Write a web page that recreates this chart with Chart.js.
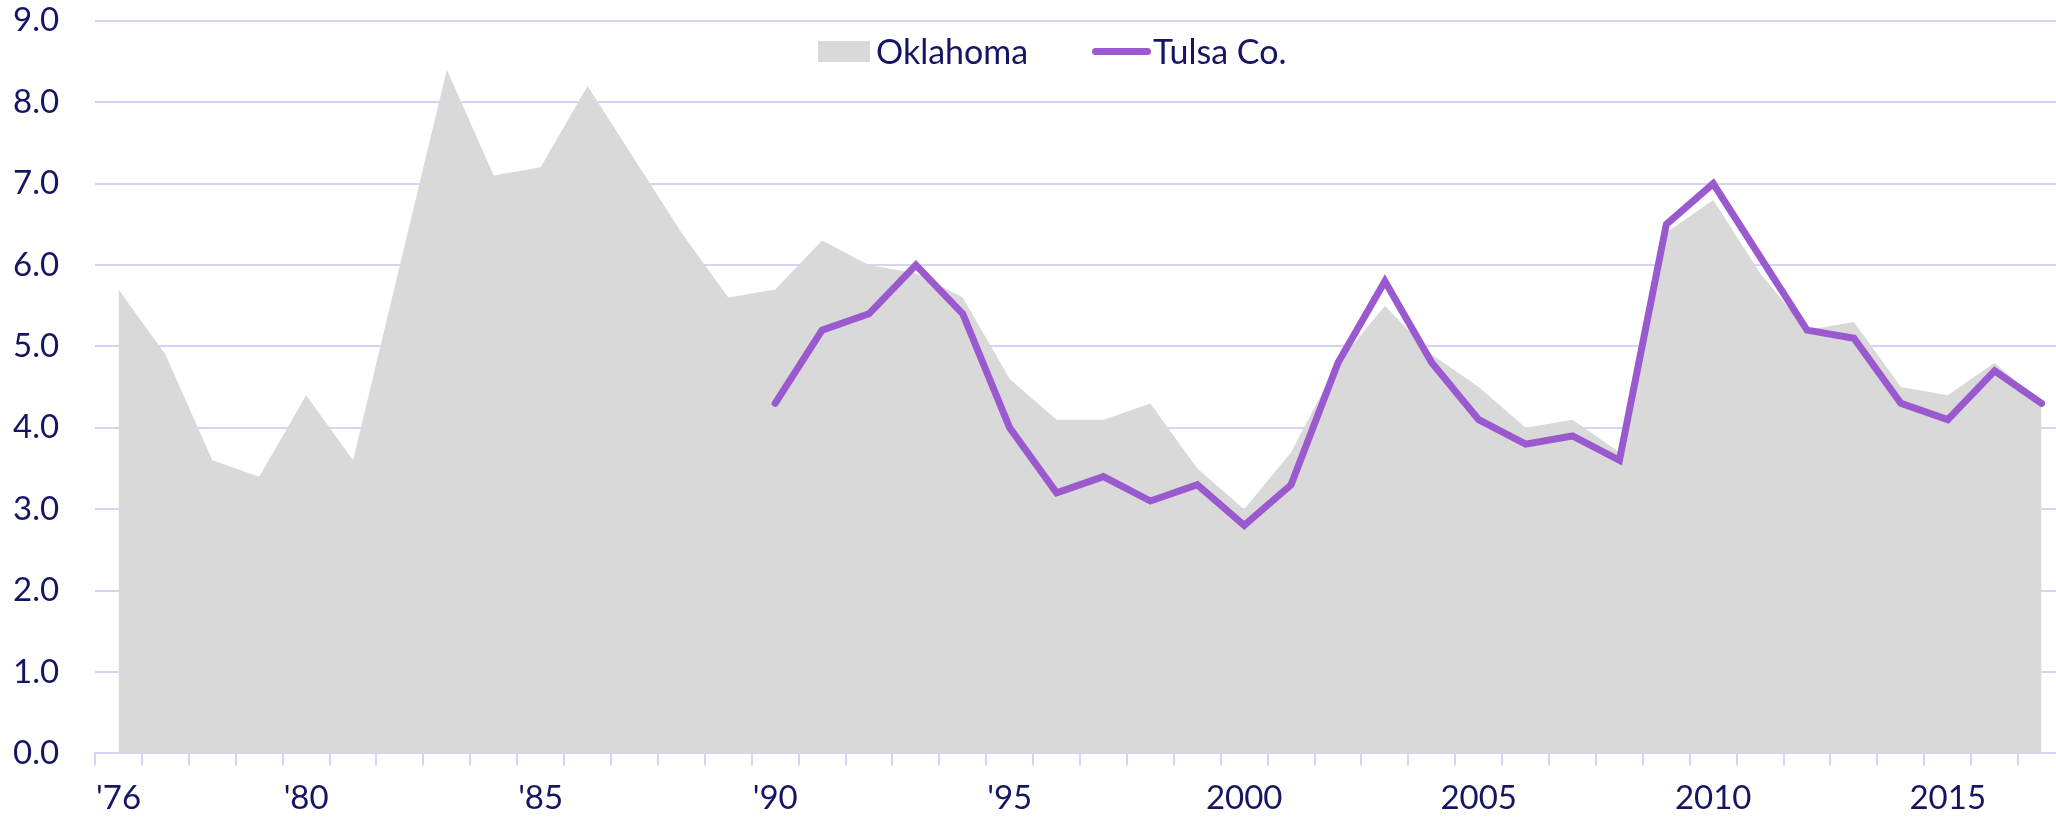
<!DOCTYPE html>
<html>
<head>
<meta charset="utf-8">
<script src="https://cdn.jsdelivr.net/npm/chart.js@4.4.0/dist/chart.umd.min.js"></script>
<style>
  html, body { margin: 0; padding: 0; background: #fff; overflow: hidden; }
  #wrap { position: relative; width: 2056px; height: 818px; overflow: hidden; }
  #grafico { position: absolute; left: -23px; top: -35px; }
  #legend { font-family: Lato, sans-serif; font-size: 34px; color: #151563; }
  #legend .item { position: absolute; top: 31px; height: 40px; line-height: 40px; display: flex; align-items: center; white-space: nowrap; }
  #legend .swatch { display: inline-block; }
</style>
</head>
<body>
<div id="wrap">
  <canvas id="grafico" width="2088" height="866"></canvas>
  <div id="legend"></div>
</div>
<script>
var years = [1976, 1977, 1978, 1979, 1980, 1981, 1982, 1983, 1984, 1985,
             1986, 1987, 1988, 1989, 1990, 1991, 1992, 1993, 1994, 1995,
             1996, 1997, 1998, 1999, 2000, 2001, 2002, 2003, 2004, 2005,
             2006, 2007, 2008, 2009, 2010, 2011, 2012, 2013, 2014, 2015,
             2016, 2017];

var oklahoma = [5.7, 4.9, 3.6, 3.4, 4.4, 3.6, 6.0, 8.4, 7.1, 7.2,
                8.2, 7.3, 6.4, 5.6, 5.7, 6.3, 6.0, 5.9, 5.6, 4.6,
                4.1, 4.1, 4.3, 3.5, 3.0, 3.7, 4.8, 5.5, 4.9, 4.5,
                4.0, 4.1, 3.7, 6.4, 6.8, 5.9, 5.2, 5.3, 4.5, 4.4,
                4.8, 4.3];

var tulsa = [null, null, null, null, null, null, null, null, null, null,
             null, null, null, null, 4.3, 5.2, 5.4, 6.0, 5.4, 4.0,
             3.2, 3.4, 3.1, 3.3, 2.8, 3.3, 4.8, 5.8, 4.8, 4.1,
             3.8, 3.9, 3.6, 6.5, 7.0, 6.1, 5.2, 5.1, 4.3, 4.1,
             4.7, 4.3];

var tickYears = [1976, 1980, 1985, 1990, 1995, 2000, 2005, 2010, 2015];
var tickText  = ["'76", "'80", "'85", "'90", "'95", "2000", "2005", "2010", "2015"];

var textColor = '#151563';
var gridColor = '#d4d4f7';
var fonte = {family: 'Lato, sans-serif', size: 33};

var ctx = document.getElementById('grafico').getContext('2d');
var config = {
    type: 'line',
    data: {
        labels: years,
        datasets: [{
            label: 'Oklahoma',
            data: oklahoma,
            fill: 'origin',
            backgroundColor: '#d9d9d9',
            borderWidth: 0,
            pointRadius: 0,
            order: 2
        }, {
            label: 'Tulsa Co.',
            data: tulsa,
            fill: false,
            borderColor: '#9b59cf',
            borderWidth: 7,
            borderCapStyle: 'round',
            borderJoinStyle: 'miter',
            pointRadius: 0,
            order: 1
        }]
    },
    options: {
        responsive: false,
        animation: false,
        layout: {padding: 0},
        plugins: {
            legend: {display: false},
            tooltip: {enabled: false}
        },
        scales: {
            x: {
                offset: true,
                grid: {offset: true, drawOnChartArea: false, tickLength: 12, color: gridColor, lineWidth: 2},
                border: {color: gridColor, width: 2},
                ticks: {
                    autoSkip: false,
                    maxRotation: 0,
                    padding: 13,
                    color: textColor,
                    font: fonte,
                    callback: function(value, index) {
                        var i = tickYears.indexOf(years[index]);
                        return i >= 0 ? tickText[i] : '';
                    }
                }
            },
            y: {
                min: 0,
                max: 9,
                grid: {drawTicks: false, color: gridColor, lineWidth: 2},
                border: {display: false},
                ticks: {
                    stepSize: 1,
                    padding: 36,
                    color: textColor,
                    font: fonte,
                    callback: function(v) { return v.toFixed(1); }
                }
            }
        }
    }
};
var grafico = new Chart(ctx, config);

// legenda em html
var legend = document.getElementById('legend');
var legendLeft = [818, 1092];
config.data.datasets.forEach(function(ds, i) {
    var item = document.createElement('span');
    item.className = 'item';
    item.style.left = legendLeft[i] + 'px';
    var sw = document.createElement('span');
    sw.className = 'swatch';
    if (ds.fill) {
        sw.style.width = '52px'; sw.style.height = '21px';
        sw.style.background = ds.backgroundColor;
        sw.style.marginRight = '6px';
    } else {
        sw.style.width = '59px'; sw.style.height = '7px';
        sw.style.background = ds.borderColor;
        sw.style.borderRadius = '4px';
        sw.style.marginRight = '2px';
    }
    item.appendChild(sw);
    item.appendChild(document.createTextNode(ds.label));
    legend.appendChild(item);
});
</script>
</body>
</html>
